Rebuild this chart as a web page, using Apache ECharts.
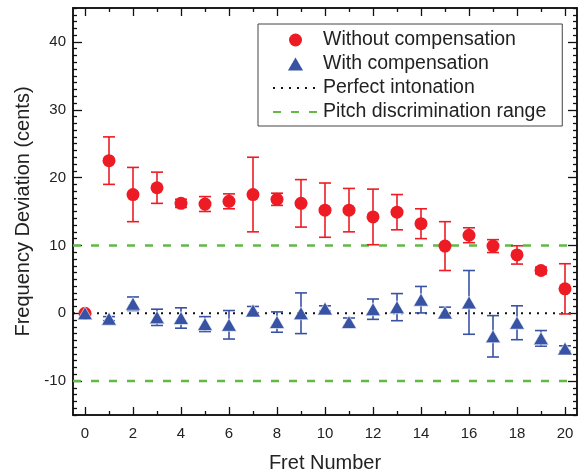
<!DOCTYPE html>
<html><head><meta charset="utf-8">
<script src="https://cdn.jsdelivr.net/npm/echarts@6/dist/echarts.min.js"></script>
<style>html,body{margin:0;padding:0;background:#fff}#c{width:580px;height:473px}</style>
</head><body><div id="c"></div>
<script>
// ---- data ----
const frets = [0,1,2,3,4,5,6,7,8,9,10,11,12,13,14,15,16,17,18,19,20];
const withoutMean = [0,22.5,17.5,18.5,16.2,16.1,16.5,17.5,16.8,16.2,15.2,15.2,14.2,14.9,13.2,9.9,11.5,9.9,8.6,6.3,3.6];
const withoutErr  = [0,3.5,4.0,2.3,0.6,1.1,1.1,5.5,0.9,3.5,4.0,3.2,4.1,2.6,2.2,3.6,1.1,0.95,1.35,0.5,3.7];
const withMean = [0,-0.8,1.4,-0.6,-0.7,-1.6,-1.7,0.4,-1.3,0,0.7,-1.3,0.6,0.9,2.0,0.1,1.6,-3.4,-1.4,-3.7,-5.2];
const withErr  = [0,0.3,1.0,1.2,1.5,1.1,2.1,0.6,1.5,3.0,0.4,0.6,1.5,2.0,1.95,0.8,4.7,3.05,2.5,1.15,0.4];
const xTickLabels = [0,2,4,6,8,10,12,14,16,18,20];
const yTickLabels = [-10,0,10,20,30,40];
const perfectLevel = 0;
const pitchRange = 10;
const names = ['Without compensation','With compensation','Perfect intonation','Pitch discrimination range'];

// ---- derived ----
const X_MIN = -0.5, X_MAX = 20.5, Y_MIN = -15, Y_MAX = 45;
const xMinor = []; for (let v = 1; v <= 19; v += 2) xMinor.push(v);
const yMinor = []; for (let v = Y_MIN; v <= Y_MAX; v++) if (v % 10 !== 0) yMinor.push(v);

const RED = '#ed1c24', BLUE = '#3953a4', GREEN = '#62b946';
const textColor = '#222';
const font = 'Liberation Sans, Arial, sans-serif';
const NONE = 'rgba(0,0,0,0)';

function xAx(pos, values, len, opts) {
  return Object.assign({
    type: 'value', position: pos, min: X_MIN, max: X_MAX,
    axisLine: { show: true, onZero: false, lineStyle: { color: '#111', width: 1.5 } },
    axisTick: { show: true, inside: true, length: len, customValues: values, lineStyle: { color: '#111', width: 1.3 } },
    axisLabel: { show: false },
    splitLine: { show: false }
  }, opts || {});
}
function yAx(pos, values, len, opts) {
  return Object.assign({
    type: 'value', position: pos, min: Y_MIN, max: Y_MAX,
    axisLine: { show: true, onZero: false, lineStyle: { color: '#111', width: 1.5 } },
    axisTick: { show: true, inside: true, length: len, customValues: values, lineStyle: { color: '#111', width: 1.3 } },
    axisLabel: { show: false },
    splitLine: { show: false }
  }, opts || {});
}

function errData(mean, err) {
  const out = [];
  frets.forEach((f, i) => { if (err[i] > 0) out.push([f, mean[i] - err[i], mean[i] + err[i]]); });
  return out;
}
function errSeries(mean, err, color, z) {
  return {
    type: 'custom', silent: true, z: z,
    data: errData(mean, err),
    encode: { x: 0, y: [1, 2] },
    renderItem: function (params, api) {
      const x = api.value(0);
      const lo = api.coord([x, api.value(1)]);
      const hi = api.coord([x, api.value(2)]);
      const hw = 6;
      const st = { stroke: color, lineWidth: 1.6 };
      return { type: 'group', children: [
        { type: 'line', shape: { x1: lo[0], y1: lo[1], x2: hi[0], y2: hi[1] }, style: st },
        { type: 'line', shape: { x1: lo[0] - hw, y1: lo[1], x2: lo[0] + hw, y2: lo[1] }, style: st },
        { type: 'line', shape: { x1: hi[0] - hw, y1: hi[1], x2: hi[0] + hw, y2: hi[1] }, style: st }
      ]};
    }
  };
}

const chart = echarts.init(document.getElementById('c'));
chart.setOption({
  animation: false,
  backgroundColor: '#fff',
  textStyle: { fontFamily: font },
  grid: { left: 73, right: 3, top: 8, bottom: 58, containLabel: false, outerBoundsMode: 'none' },
  legend: {
    orient: 'vertical', left: 258, top: 24,
    padding: [6, 16, 4, 14],
    itemWidth: 45, itemHeight: 13, itemGap: 4,
    borderColor: '#444', borderWidth: 1, backgroundColor: '#fff',
    textStyle: { fontSize: 19.5, color: textColor, fontFamily: font, lineHeight: 20 },
    data: [
      { name: names[0], icon: 'circle' },
      { name: names[1], icon: 'path://M7,0L14,12L0,12Z', itemStyle: { borderWidth: 0 } },
      { name: names[2], itemStyle: { color: NONE, borderWidth: 0, opacity: 0 } },
      { name: names[3], itemStyle: { color: NONE, borderWidth: 0, opacity: 0 } }
    ],
    selectedMode: false
  },
  xAxis: [
    xAx('bottom', xTickLabels, 8, {
      axisLabel: { show: true, customValues: xTickLabels, fontSize: 15, color: textColor, margin: 11, fontFamily: font },
      name: 'Fret Number', nameLocation: 'middle', nameGap: 38,
      nameTextStyle: { fontSize: 20, color: textColor, fontFamily: font }
    }),
    xAx('bottom', xMinor, 4),
    xAx('top', xTickLabels, 8),
    xAx('top', xMinor, 4)
  ],
  yAxis: [
    yAx('left', yTickLabels, 9, {
      axisLabel: { show: true, customValues: yTickLabels, fontSize: 15, color: textColor, margin: 7, fontFamily: font },
      name: 'Frequency Deviation (cents)', nameLocation: 'middle', nameGap: 40,
      nameTextStyle: { fontSize: 20, color: textColor, fontFamily: font }
    }),
    yAx('left', yMinor, 4),
    yAx('right', yTickLabels, 9),
    yAx('right', yMinor, 4)
  ],
  series: [
    { name: names[3], type: 'line', silent: true, symbol: 'none', z: 1,
      data: [[X_MIN, pitchRange], [X_MAX, pitchRange]],
      lineStyle: { color: GREEN, width: 2.5, type: [8, 10] }, itemStyle: { color: NONE } },
    { name: names[3], type: 'line', silent: true, symbol: 'none', z: 1,
      data: [[X_MIN, -pitchRange], [X_MAX, -pitchRange]],
      lineStyle: { color: GREEN, width: 2.5, type: [8, 10] }, itemStyle: { color: NONE } },
    { name: names[2], type: 'line', silent: true, symbol: 'none', z: 2,
      data: [[X_MIN, perfectLevel], [X_MAX, perfectLevel]],
      lineStyle: { color: '#111', width: 2, type: [2, 6] }, itemStyle: { color: NONE } },
    errSeries(withoutMean, withoutErr, RED, 3),
    { name: names[0], type: 'scatter', z: 4, symbol: 'circle', symbolSize: 13,
      data: frets.map((f, i) => [f, withoutMean[i]]),
      itemStyle: { color: RED, opacity: 1 } },
    errSeries(withMean, withErr, BLUE, 5),
    { name: names[1], type: 'scatter', z: 6, symbol: 'triangle', symbolSize: [15, 13],
      data: frets.map((f, i) => [f, withMean[i]]),
      itemStyle: { color: BLUE, opacity: 1, borderColor: '#fff', borderWidth: 0.6 } }
  ]
});
</script>
</body></html>
